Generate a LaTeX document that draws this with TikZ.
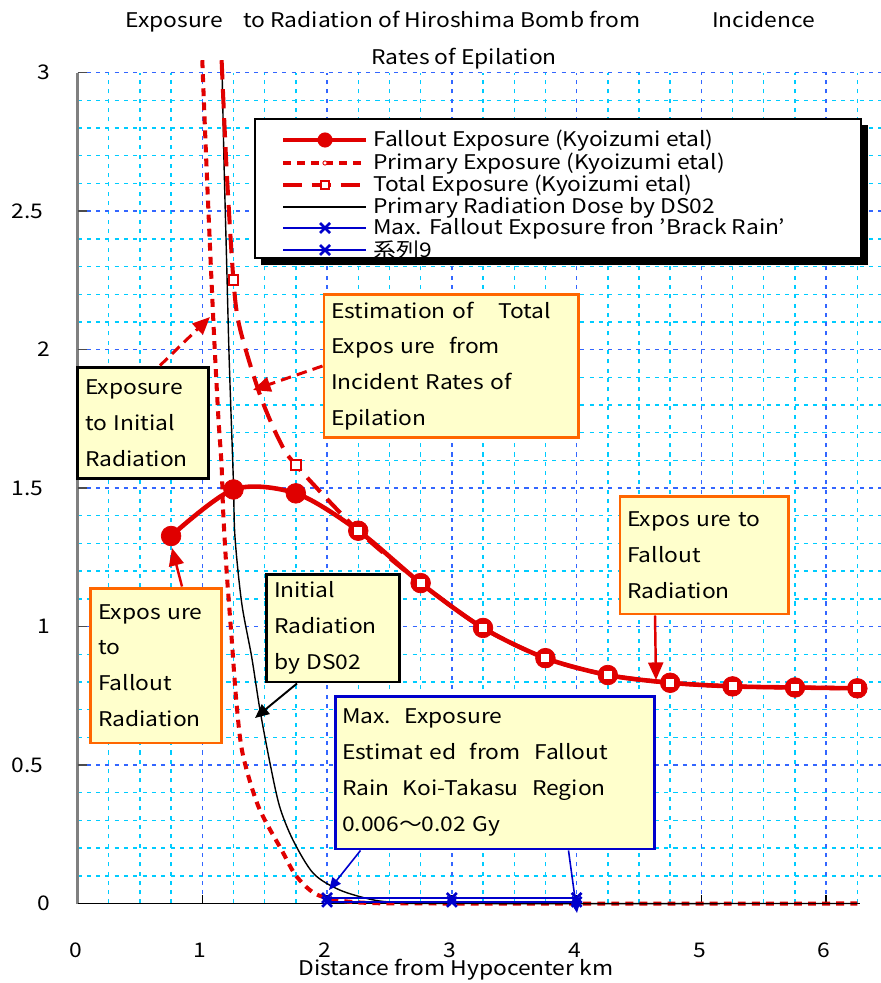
\documentclass[tikz,border=0pt]{standalone}
\usepackage{fontspec}
\setmainfont{Noto Sans CJK JP}[FakeStretch=1.13]
\usetikzlibrary{arrows.meta,calc,plotmarks}

\definecolor{minorgrid}{HTML}{00CCFF}
\definecolor{majorgrid}{HTML}{3366FF}
\definecolor{notefill}{HTML}{FFFFCC}
\definecolor{noteorange}{HTML}{FF6600}
\definecolor{plotred}{HTML}{E00000}
\definecolor{plotblue}{HTML}{0000CC}

\tikzset{
  minorline/.style={minorgrid, line width=0.8pt, dash pattern=on 2.3pt off 3pt},
  majorline/.style={majorgrid, line width=0.8pt, dash pattern=on 2.3pt off 3pt},
  falloutline/.style={plotred, line width=2.6pt},
  primaryline/.style={plotred, line width=2.3pt, dash pattern=on 4.5pt off 3.5pt},
  totalline/.style={plotred, line width=2.3pt, dash pattern=on 11pt off 5.5pt},
  ds02line/.style={black, line width=0.8pt},
  rainline/.style={plotblue, line width=0.9pt},
  txt/.style={inner sep=0pt},
  notebox/.style={rectangle, fill=notefill, line width=1.7pt, inner xsep=4pt, inner ysep=0pt,
    align=left, font=\fontsize{11.5pt}{20.4pt}\selectfont},
  redtip/.style={-{Triangle[length=10pt,width=8.5pt]}},
  blacktip/.style={-{Triangle[length=8pt,width=7pt]}},
  bluetip/.style={-{Triangle[length=7pt,width=6pt]}},
}

\begin{document}
\begin{tikzpicture}[x=0.02cm, y=-0.02cm, font=\fontsize{11.5pt}{14pt}\selectfont]
\useasboundingbox (0,0) rectangle (881,983);
\fill[white] (0,0) rectangle (881,983);

% title
\node[txt, anchor=west] (title1) at (125,22)
  {\makebox[2.36cm][l]{Exposure}\makebox[9.38cm][l]{to Radiation of Hiroshima Bomb from}Incidence};
\node[txt] (title2) at (464,59) {Rates of Epilation};

% plot area, data units
\begin{scope}[shift={(77.5,903.5)}, x=2.496cm, y=5.54cm]
  % grid
  \foreach \i in {1,...,25} {
    \pgfmathtruncatemacro\r{mod(\i,4)}
    \ifnum\r=0 \else \draw[minorline] (\i/4,0) -- (\i/4,3); \fi
  }
  \foreach \i in {1,...,30} {
    \pgfmathtruncatemacro\r{mod(\i,5)}
    \ifnum\r=0 \else \draw[minorline] (0,\i/10) -- (6.44,\i/10); \fi
  }
  \foreach \gx in {1,...,6} \draw[majorline] (\gx,0) -- (\gx,3);
  \foreach \gy in {0.5,1,...,3} \draw[majorline] (0,\gy) -- (6.44,\gy);

  % axes
  \draw[gray, line width=1.2pt] (0,0) -- (0,3);
  \foreach \v in {0.5,1,...,3} \draw[black!70, line width=0.9pt] (0,\v) -- (0.08,\v);
  \draw[black, line width=1pt] (0,0) -- (6.27,0);
  \foreach \v in {1,...,6} \draw[black, line width=0.8pt] (\v,0) -- (\v,0.032);

  \foreach \v in {0,...,6} \node[txt] (xtick\v) at (\v-0.016,-0.168) {\v};
  \foreach \v in {0,1,2,3} \node[txt, anchor=east] (ytick\v) at (-0.22,\v) {\v};
  \foreach \v/\n in {0.5/a,1.5/b,2.5/c} \node[txt, anchor=east] (ytick\n) at (-0.27,\v) {\v};
  \node[txt] (xlabel) at (3.033,-0.24) {Distance from Hypocenter km};

  % primary exposure (Kyoizumi)
  \draw[primaryline] plot[smooth, tension=0.5] coordinates {
    (1.0,3.045) (1.035,2.65) (1.087,2.12) (1.127,1.77) (1.155,1.58) (1.167,1.42)
    (1.195,1.20) (1.235,0.96) (1.275,0.72) (1.324,0.54) (1.45,0.35) (1.636,0.193)
    (1.757,0.097) (1.93,0.03) (2.25,0.004) (3,0) (6.25,0)};

  % primary dose DS02
  \draw[ds02line] plot[smooth, tension=0.5] coordinates {
    (1.157,3.045) (1.174,2.68) (1.195,2.32) (1.216,1.96) (1.249,1.53) (1.262,1.324)
    (1.316,1.085) (1.396,0.89) (1.462,0.70) (1.543,0.506) (1.62,0.35) (1.727,0.229)
    (1.89,0.109) (2.10,0.049) (2.37,0.013) (2.6,0.003) (3,0) (6.25,0)};

  % black rain, two series
  \draw[rainline] plot[mark=x, mark size=4pt, mark options={line width=1.5pt}]
    coordinates {(2,0.02) (3,0.02) (4,0.02)};
  \draw[rainline] plot[mark=x, mark size=4pt, mark options={line width=1.5pt}]
    coordinates {(2,0.006) (3,0.006) (4,0.006)};

  % fallout exposure
  \draw[falloutline] plot[smooth] coordinates {
    (0.75,1.327) (1.25,1.495) (1.75,1.481) (2.25,1.346) (2.75,1.157) (3.25,0.995)
    (3.75,0.886) (4.25,0.825) (4.75,0.797) (5.25,0.784) (5.75,0.78) (6.25,0.777)};
  \fill[plotred] plot[only marks, mark=*, mark size=5.6pt] coordinates {
    (0.75,1.327) (1.25,1.495) (1.75,1.481) (2.25,1.346) (2.75,1.157) (3.25,0.995)
    (3.75,0.886) (4.25,0.825) (4.75,0.797) (5.25,0.784) (5.75,0.78) (6.25,0.777)};

  % total exposure
  \draw[totalline] plot[smooth, tension=0.5] coordinates {
    (1.155,3.045) (1.195,2.65) (1.25,2.25) (1.30,2.08) (1.46,1.84) (1.62,1.67)
    (1.75,1.583) (2.25,1.346) (2.75,1.157) (3.25,0.995) (3.75,0.886) (4.25,0.825)
    (4.75,0.797) (5.25,0.784) (5.75,0.78) (6.25,0.777)};
  \draw[plotred] plot[only marks, mark=square*, mark size=2.8pt,
    mark options={solid, fill=white, draw=plotred, line width=1.1pt}] coordinates {
    (1.25,2.25) (1.75,1.583) (2.25,1.346) (2.75,1.157) (3.25,0.995) (3.75,0.886)
    (4.25,0.825) (4.75,0.797) (5.25,0.784) (5.75,0.78) (6.25,0.777)};
\end{scope}

% legend
\fill[black] (261,125) rectangle (868,265);
\node[draw=black, fill=white, line width=1.5pt, minimum width=12.12cm, minimum height=2.78cm,
  inner sep=0pt] (legend) at (558,188.5) {};
\draw[falloutline] (283,140) -- (366,140);
\fill[plotred] (325,140) circle (4.3pt);
\draw[primaryline] (283,163) -- (366,163);
\draw[plotred, line width=0.5pt, fill=white] (325,163) circle (1.2pt);
\draw[totalline] (283,185) -- (366,185);
\draw[plotred, fill=white, line width=1pt] (321,181) rectangle (329,189);
\draw[ds02line, line width=1pt] (283,207) -- (366,207);
\draw[rainline, line width=1.1pt] (283,228) -- (366,228);
\draw[plotblue, line width=1.5pt] (320,223) -- (330,233) (320,233) -- (330,223);
\draw[rainline, line width=1.1pt] (283,250) -- (366,250);
\draw[plotblue, line width=1.5pt] (320,245) -- (330,255) (320,255) -- (330,245);
\node[txt, anchor=base west] (leg1) at (373,147) {Fallout Exposure (Kyoizumi etal)};
\node[txt, anchor=base west] (leg2) at (373,170) {Primary Exposure (Kyoizumi etal)};
\node[txt, anchor=base west] (leg3) at (373,192) {Total Exposure (Kyoizumi etal)};
\node[txt, anchor=base west] (leg4) at (373,214) {Primary Radiation Dose by DS02};
\node[txt, anchor=base west] (leg5) at (373,235) {Max. Fallout Exposure fron ’Brack Rain’};
\node[txt, anchor=base west] (leg6) at (373,257) {系列9};

% notes
\node[notebox, draw=black, text width=2.32cm, minimum height=2.24cm] (initbox) at (143,423)
  {Exposure\\to Initial\\Radiation};
\node[notebox, draw=noteorange, text width=4.80cm, minimum height=2.88cm] (estbox) at (451,366)
  {Estimation of\hspace{14pt}Total\\Expos ure\ \ from\\Incident Rates of\\Epilation};
\node[notebox, draw=noteorange, text width=2.32cm, minimum height=3.1cm] (falloutL) at (156,665.5)
  {Expos ure\\to\\Fallout\\Radiation};
\node[notebox, draw=black, text width=2.36cm, minimum height=2.16cm] (ds02box) at (333,628)
  {Initial\\Radiation\\by DS02};
\node[notebox, draw=plotblue, text width=6.10cm, minimum height=3.06cm] (rainbox) at (494.5,772.5)
  {Max.\ \ Exposure\\Estimat ed\ \ from\ \ Fallout\\Rain\ \ Koi-Takasu\ \ Region\\0.006～0.02 Gy};
\node[notebox, draw=noteorange, text width=3.08cm, minimum height=2.36cm] (falloutR) at (704,555)
  {Expos ure to\\Fallout\\Radiation};

% arrows
\coordinate (tipA) at (210,317);
\coordinate (tipB) at (253,390);
\coordinate (tipC) at (172,548);
\coordinate (tipD) at (255,718);
\coordinate (tipE1) at (329,890);
\coordinate (tipE2) at (577,913);
\coordinate (tipF) at (656,680);
\draw[plotred, line width=1.7pt, dash pattern=on 6pt off 3.5pt, redtip] ($(initbox.north)+(17,0)$) -- (tipA);
\draw[plotred, line width=1.7pt, dash pattern=on 6pt off 3.5pt, redtip] (estbox.west) -- (tipB);
\draw[plotred, line width=1.4pt, redtip] ($(falloutL.north)+(26,0)$) -- (tipC);
\draw[black, line width=1.1pt, blacktip] ($(ds02box.south)+(-36,0)$) -- (tipD);
\draw[plotblue, line width=0.9pt, bluetip] ($(rainbox.south)+(-134,0)$) -- (tipE1);
\draw[plotblue, line width=0.9pt, bluetip] ($(rainbox.south)+(74,0)$) -- (tipE2);
\draw[plotred, line width=1.4pt, redtip] ($(falloutR.south)+(-49,0)$) -- (tipF);
\end{tikzpicture}
\end{document}
